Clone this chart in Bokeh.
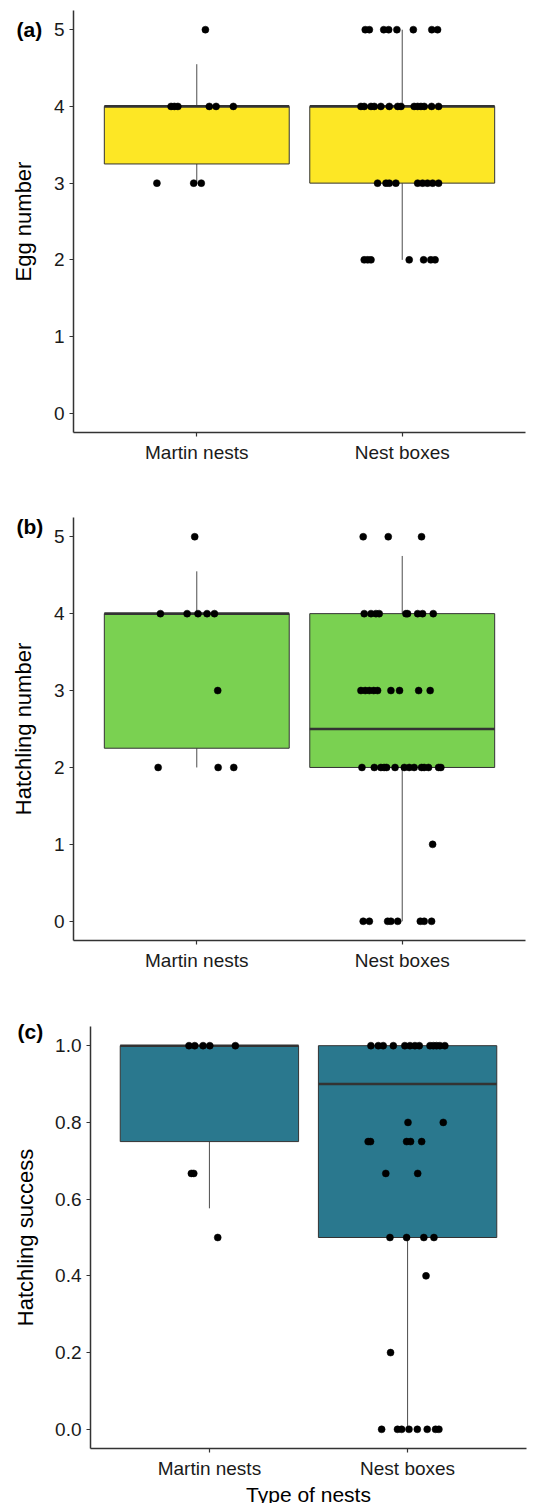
from bokeh.plotting import figure
from bokeh.layouts import column, row
from bokeh.models import FixedTicker, Range1d, Label, ColumnDataSource, Spacer
from bokeh.embed import file_html
from bokeh.resources import INLINE

nest_types = ["Martin nests", "Nest boxes"]

# ---- (a) Egg number ----
egg_martin_vals = [5, 4, 4, 4, 4, 4, 4, 3, 3, 3]
egg_martin_jit = [0.042, -0.125, -0.109, -0.092, 0.061, 0.094, 0.178, -0.194, -0.015, 0.022]
egg_nest_vals = [5, 5, 5, 5, 5, 5, 5, 5,
                 4, 4, 4, 4, 4, 4, 4, 4, 4, 4, 4, 4, 4, 4,
                 3, 3, 3, 3, 3, 3, 3, 3, 3,
                 2, 2, 2, 2, 2, 2, 2]
egg_nest_jit = [-0.180, -0.160, -0.090, -0.066, -0.026, 0.054, 0.144, 0.172,
                -0.201, -0.185, -0.152, -0.136, -0.104, -0.063, -0.022, -0.006, 0.058, 0.075, 0.091, 0.107, 0.143, 0.177,
                -0.120, -0.079, -0.063, -0.031, 0.075, 0.099, 0.123, 0.148, 0.177,
                -0.185, -0.168, -0.152, 0.034, 0.104, 0.139, 0.160]
egg_lower = [3.0, 2.0]
egg_q1 = [3.25, 3.0]
egg_median = [4.0, 4.0]
egg_q3 = [4.0, 4.0]
egg_upper = [4.55, 5.0]

# ---- (b) Hatchling number ----
hn_martin_vals = [5, 4, 4, 4, 4, 4, 3, 2, 2, 2]
hn_martin_jit = [-0.010, -0.177, -0.047, 0.006, 0.050, 0.086, 0.102, -0.188, 0.104, 0.180]
hn_nest_vals = [5, 5, 5,
                4, 4, 4, 4, 4, 4, 4, 4, 4,
                3, 3, 3, 3, 3, 3, 3, 3, 3,
                2, 2, 2, 2, 2, 2, 2, 2, 2, 2, 2, 2, 2, 2,
                1,
                0, 0, 0, 0, 0, 0, 0, 0]
hn_nest_jit = [-0.190, -0.068, 0.094,
               -0.185, -0.152, -0.128, -0.112, 0.018, 0.026, 0.075, 0.099, 0.151,
               -0.201, -0.180, -0.160, -0.139, -0.120, -0.055, -0.013, 0.080, 0.136,
               -0.196, -0.136, -0.104, -0.088, -0.076, -0.035, 0.010, 0.034, 0.058, 0.094, 0.107, 0.128, 0.177, 0.188,
               0.148,
               -0.190, -0.160, -0.071, -0.055, -0.022, 0.088, 0.107, 0.143]
hn_lower = [2.0, 0.0]
hn_q1 = [2.25, 2.0]
hn_median = [4.0, 2.5]
hn_q3 = [4.0, 4.0]
hn_upper = [4.55, 4.75]

# ---- (c) Hatching success ----
hs_martin_vals = [1.0, 1.0, 1.0, 1.0, 1.0, 0.667, 0.667, 0.5]
hs_martin_jit = [-0.103, -0.074, -0.032, 0.002, 0.131, -0.091, -0.079, 0.042]
hs_nest_vals = [1.0, 1.0, 1.0, 1.0, 1.0, 1.0, 1.0, 1.0, 1.0, 1.0, 1.0, 1.0, 1.0,
                0.8, 0.8,
                0.75, 0.75, 0.75, 0.75, 0.75,
                0.667, 0.667,
                0.5, 0.5, 0.5, 0.5,
                0.4,
                0.2,
                0.0, 0.0, 0.0, 0.0, 0.0, 0.0, 0.0, 0.0]
hs_nest_jit = [-0.185, -0.148, -0.123, -0.072, -0.014, 0.012, 0.037, 0.059, 0.113, 0.130, 0.146, 0.163, 0.188,
               0.002, 0.180,
               -0.199, -0.187, -0.005, 0.015, 0.071,
               -0.110, 0.051,
               -0.089, -0.005, 0.082, 0.133,
               0.093,
               -0.086,
               -0.131, -0.051, -0.030, 0.007, 0.049, 0.099, 0.141, 0.158]
hs_lower = [0.576, 0.0]
hs_q1 = [0.75, 0.5]
hs_median = [1.0, 0.9]
hs_q3 = [1.0, 1.0]
hs_upper = [1.0, 1.0]

FONT = "Liberation Sans"
BOX_W = 0.9


def make_panel(letter, ylabel, martin_vals, martin_jit, nest_vals, nest_jit,
               lower, q1, median, q3, upper, fill, y_start, y_end, ticks,
               tick_labels, fw, fh, top, bottom, left, letter_dx, letter_dy,
               xlabel=None, ylab_standoff=15, letter_side="above", letter_y_units="screen"):
    p = figure(frame_width=fw, frame_height=fh, output_backend="svg", toolbar_location=None,
               x_range=Range1d(0.4, 2.6), y_range=Range1d(y_start, y_end),
               min_border_top=top, min_border_bottom=bottom, min_border_left=left,
               min_border_right=7)
    p.outline_line_color = None
    p.grid.visible = False
    p.background_fill_color = "white"

    pos = [i + 1 for i in range(len(nest_types))]
    src = ColumnDataSource(dict(
        x=pos,
        left=[x - BOX_W / 2 for x in pos],
        right=[x + BOX_W / 2 for x in pos],
        lower=lower, q1=q1, median=median, q3=q3, upper=upper))
    p.segment(x0="x", y0="q3", x1="x", y1="upper", source=src, line_color="#4d4d4d", line_width=1)
    p.segment(x0="x", y0="q1", x1="x", y1="lower", source=src, line_color="#4d4d4d", line_width=1)
    p.quad(left="left", right="right", bottom="q1", top="q3", source=src,
           fill_color=fill, line_color="#333333", line_width=1)
    p.segment(x0="left", y0="median", x1="right", y1="median", source=src,
              line_color="#333333", line_width=2.6)

    xs = [1 + j for j in martin_jit] + [2 + j for j in nest_jit]
    ys = list(martin_vals) + list(nest_vals)
    p.scatter(xs, ys, size=7, fill_color="black", line_color="black", line_width=0.5)

    p.xaxis.ticker = FixedTicker(ticks=pos)
    p.xaxis.major_label_overrides = {pos[i]: nest_types[i] for i in range(len(nest_types))}
    p.yaxis.ticker = FixedTicker(ticks=ticks)
    p.yaxis.major_label_overrides = {ticks[i]: tick_labels[i] for i in range(len(ticks))}

    for ax in (p.xaxis[0], p.yaxis[0]):
        ax.axis_line_color = "#333333"
        ax.axis_line_width = 1.5
        ax.major_tick_line_color = "#333333"
        ax.major_tick_line_width = 1.2
        ax.major_tick_out = 4
        ax.major_tick_in = 0
        ax.minor_tick_line_color = None
        ax.major_label_text_font = FONT
        ax.major_label_text_font_size = "19px"
        ax.major_label_text_color = "#1a1a1a"
        ax.axis_label_text_font = FONT
        ax.axis_label_text_font_style = "normal"
        ax.axis_label_text_color = "black"
    p.xaxis.major_label_standoff = 5
    p.yaxis.major_label_standoff = 5
    p.yaxis.axis_label = ylabel
    p.yaxis.axis_label_text_font_size = "22px"
    p.yaxis.axis_label_standoff = ylab_standoff
    if xlabel:
        p.xaxis.axis_label = xlabel
        p.xaxis.axis_label_text_font_size = "21px"
        p.xaxis.axis_label_standoff = 1

    lab = Label(x=letter_dx, y=letter_dy, x_units="screen", y_units=letter_y_units, text=letter,
                text_font=FONT, text_font_size="21px", text_font_style="bold",
                text_color="black", text_baseline="alphabetic", text_align="left")
    p.add_layout(lab, letter_side)
    return p


int_ticks = [0, 1, 2, 3, 4, 5]
int_labels = ["0", "1", "2", "3", "4", "5"]
frac_ticks = [0.0, 0.2, 0.4, 0.6, 0.8, 1.0]
frac_labels = ["0.0", "0.2", "0.4", "0.6", "0.8", "1.0"]

pa = make_panel("(a)", "Egg number", egg_martin_vals, egg_martin_jit, egg_nest_vals, egg_nest_jit,
                egg_lower, egg_q1, egg_median, egg_q3, egg_upper, "#FDE725", -0.25, 5.25,
                int_ticks, int_labels, fw=452, fh=422, top=10, bottom=56, left=73,
                letter_dx=-57, letter_dy=5.0, letter_side="below", letter_y_units="data")
pb = make_panel("(b)", "Hatchling number", hn_martin_vals, hn_martin_jit, hn_nest_vals, hn_nest_jit,
                hn_lower, hn_q1, hn_median, hn_q3, hn_upper, "#7AD151", -0.25, 5.25,
                int_ticks, int_labels, fw=452, fh=423, top=29, bottom=43, left=73,
                letter_dx=-57, letter_dy=-9)
pc = make_panel("(c)", "Hatchling success", hs_martin_vals, hs_martin_jit, hs_nest_vals, hs_nest_jit,
                hs_lower, hs_q1, hs_median, hs_q3, hs_upper, "#2A788E", -0.05, 1.05,
                frac_ticks, frac_labels, fw=436, fh=422, top=43, bottom=54, left=79,
                letter_dx=-73, letter_dy=-4.5, xlabel="Type of nests", ylab_standoff=14)

layout = column(pa, pb, row(Spacer(width=10), pc, spacing=0), spacing=0)
open("out.html", "w").write(file_html(layout, INLINE))
